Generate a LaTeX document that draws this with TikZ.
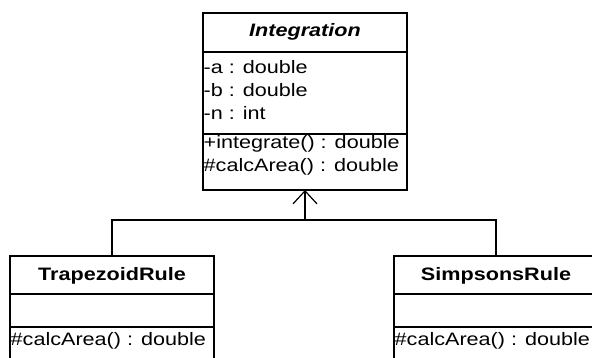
\documentclass[tikz,border=0pt]{standalone}
\usepackage{fontspec}
\setmainfont{Liberation Sans}[FakeStretch=1.2]
\usetikzlibrary{arrows.meta}
\begin{document}
\begin{tikzpicture}[x=1pt,y=-1pt,
  comp/.style={draw, line width=1.3pt, minimum width=204pt, anchor=north west, inner sep=0pt, outer sep=0pt},
  txt/.style={anchor=base west, inner sep=0pt, font=\fontsize{18}{20}\selectfont},
  ttl/.style={anchor=base, inner sep=0pt, font=\fontsize{18}{20}\selectfont\bfseries},
  conn/.style={draw, line width=1.2pt}]
\useasboundingbox (0,0) rectangle (592,358);
\clip (0,0) rectangle (592,358);
\fill[white] (0,0) rectangle (592,358);
% Integration
\node[comp, minimum height=39pt] (inth) at (203,13) {};
\node[comp, minimum height=82pt] (inta) at (inth.south west) {};
\node[comp, minimum height=56pt] (into) at (inta.south west) {};
\node[ttl, font=\fontsize{18}{20}\selectfont\bfseries\itshape] (intn) at (305,37) {Integration};
\node[txt] (a1) at (203.5,73.3) {-a : double};
\node[txt] (a2) at (203.5,96.6) {-b : double};
\node[txt] (a3) at (203.5,120) {-n : int};
\node[txt] (o1) at (203.5,149) {+integrate() : double};
\node[txt] (o2) at (203.5,172) {\#calcArea() : double};
% TrapezoidRule
\node[comp, minimum height=38pt] (th) at (10,256) {};
\node[comp, minimum height=33pt] (ta) at (th.south west) {};
\node[comp, minimum height=60pt] (to) at (ta.south west) {};
\node[ttl] (tn) at (112,280) {TrapezoidRule};
\node[txt] (t1) at (10.5,345.5) {\#calcArea() : double};
% SimpsonsRule
\node[comp, minimum height=38pt] (sh) at (394,256) {};
\node[comp, minimum height=33pt] (sa) at (sh.south west) {};
\node[comp, minimum height=60pt] (so) at (sa.south west) {};
\node[ttl] (sn) at (496,280) {SimpsonsRule};
\node[txt] (s1) at (394.5,345.5) {\#calcArea() : double};
% connectors
\coordinate (j) at (305,220);
\draw[conn] (th.north) |- (j) -| (sh.north);
\draw[conn, -{Straight Barb[length=13pt,width=24pt]}] (j) -- (into.south);
\end{tikzpicture}
\end{document}
